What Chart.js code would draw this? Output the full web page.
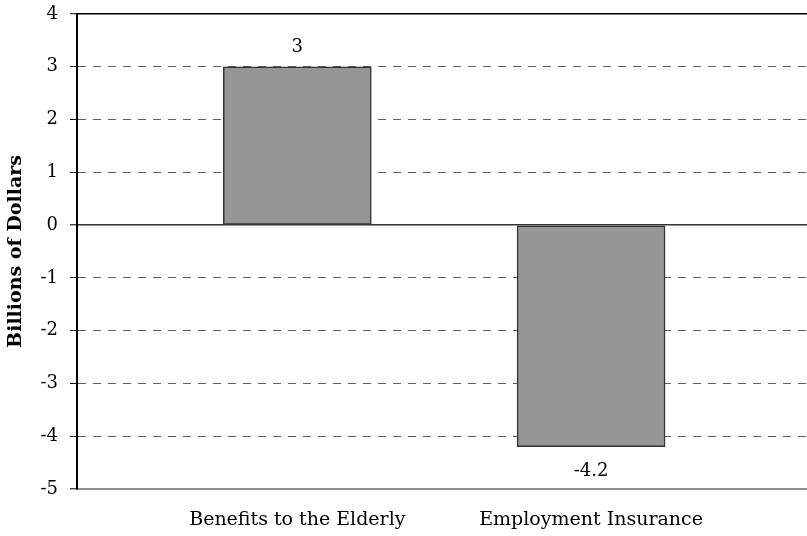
<!DOCTYPE html>
<html>
<head>
<meta charset="utf-8">
<script src="https://cdn.jsdelivr.net/npm/chart.js@4/dist/chart.umd.min.js"></script>
<style>
  html, body { margin: 0; padding: 0; background: #fff; }
  #wrap { width: 807px; height: 536px; }
</style>
</head>
<body>
<div id="wrap"><canvas id="c" width="807" height="536"></canvas></div>
<script>
// Budget changes by program, billions of dollars
const categories = ['Benefits to the Elderly', 'Employment Insurance'];
const values = [3, -4.2];
const yMin = -5;
const yMax = 4;
const yStep = 1;

const FONT = '"DejaVu Serif", "Liberation Serif", serif';

// Bar positions along a numeric x axis (one slot per category)
const points = categories.map((name, i) => ({ x: i + 1, y: values[i] }));

// Writes each bar's value just beyond its end
const valueLabels = {
  id: 'valueLabels',
  afterDatasetsDraw(chart) {
    const ctx = chart.ctx;
    const meta = chart.getDatasetMeta(0);
    ctx.save();
    ctx.font = '18px ' + FONT;
    ctx.fillStyle = '#000';
    ctx.textAlign = 'center';
    ctx.textBaseline = 'alphabetic';
    meta.data.forEach((bar, i) => {
      const v = values[i];
      const y = v >= 0 ? bar.y - 15 : bar.y + 29;
      ctx.fillText(String(v), bar.x, y);
    });
    ctx.restore();
  }
};

function noEdgePadding(scale) {
  scale.paddingTop = 0;
  scale.paddingBottom = 0;
  scale.paddingLeft = 0;
  scale.paddingRight = 0;
}

new Chart(document.getElementById('c'), {
  type: 'bar',
  data: {
    datasets: [{
      data: points,
      backgroundColor: '#969696',
      borderColor: '#333',
      borderWidth: 1.5,
      borderSkipped: false,
      barThickness: 148
    }]
  },
  options: {
    responsive: false,
    animation: false,
    devicePixelRatio: 1,
    layout: { padding: { top: 14, right: 0, bottom: 0, left: 0 } },
    plugins: {
      legend: { display: false },
      tooltip: { enabled: false }
    },
    scales: {
      x: {
        type: 'linear',
        z: -1,
        offset: false,
        min: 0.25,
        max: 2.735,
        afterFit(scale) { scale.height = 47; noEdgePadding(scale); },
        grid: { display: false, drawTicks: false, offset: false },
        border: { display: true, color: '#8f8f8f', width: 2 },
        ticks: {
          stepSize: 1,
          padding: 20,
          color: '#000',
          font: { family: FONT, size: 19 },
          maxRotation: 0,
          autoSkip: false,
          callback(v) {
            return Number.isInteger(v) ? (categories[v - 1] || '') : '';
          }
        }
      },
      y: {
        min: yMin,
        max: yMax,
        afterFit(scale) { scale.width = 77; noEdgePadding(scale); },
        ticks: {
          stepSize: yStep,
          padding: 12,
          color: '#000',
          font: { family: FONT, size: 18 }
        },
        grid: {
          drawTicks: true,
          tickLength: 7,
          tickColor: '#000',
          tickWidth: 1,
          tickBorderDash: [],
          lineWidth(ctx) {
            const v = ctx.tick ? ctx.tick.value : null;
            if (v === yMax) return 1.5;
            if (v === 0 || v === yMin) return 1.5;
            return 1;
          },
          color(ctx) {
            const v = ctx.tick ? ctx.tick.value : null;
            if (v === yMax) return '#000';
            if (v === 0) return '#333';
            if (v === yMin) return '#333';
            return '#606060';
          }
        },
        border: {
          display: true,
          color: '#000',
          width: 2,
          dash(ctx) {
            const v = ctx.tick ? ctx.tick.value : null;
            if (v === 0 || v === yMax || v === null) return [];
            return [8, 7];
          }
        },
        title: {
          display: true,
          text: 'Billions of Dollars',
          color: '#000',
          font: { family: FONT, size: 19, weight: 'bold' },
          padding: { top: 5, bottom: 0 }
        }
      }
    }
  },
  plugins: [valueLabels]
});
</script>
</body>
</html>
